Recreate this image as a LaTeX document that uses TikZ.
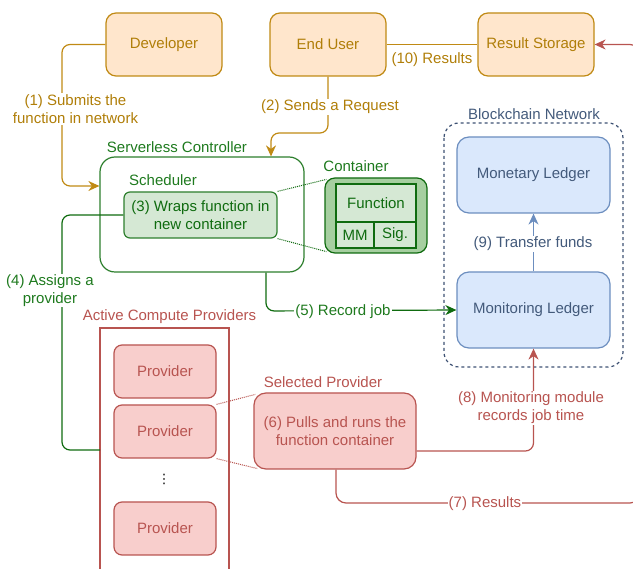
\documentclass[tikz,border=0pt]{standalone}
\usepackage{fontspec}
\setmainfont{Liberation Sans}
\newfontfamily\dejavu{DejaVu Sans}
\usetikzlibrary{arrows.meta,calc}
\definecolor{orfill}{HTML}{FFE6CC}
\definecolor{orline}{HTML}{C08A14}
\definecolor{ortext}{HTML}{B07E08}
\definecolor{grline}{HTML}{2D7F2D}
\definecolor{grtext}{HTML}{1E7A1E}
\definecolor{grdark}{HTML}{0F6B0F}
\definecolor{grfill}{HTML}{D5E8D4}
\definecolor{grmid}{HTML}{A6CFA0}
\definecolor{rdfill}{HTML}{F8CECC}
\definecolor{rdline}{HTML}{B85450}
\definecolor{blfill}{HTML}{DAE8FC}
\definecolor{blline}{HTML}{6C8EBF}
\definecolor{bltext}{HTML}{435A7B}
\definecolor{bldash}{HTML}{3D5173}
\newcommand{\fs}{\fontsize{15}{18}\selectfont}
\tikzset{
  x=1pt,y=-1pt,
  every node/.style={font=\fs, align=center, inner sep=1pt},
  orbox/.style={draw=orline, fill=orfill, text=ortext, line width=1.2pt, rounded corners=10pt, minimum width=116pt, minimum height=63pt},
  bluebox/.style={draw=blline, fill=blfill, text=bltext, line width=1.2pt, rounded corners=12pt, minimum width=153pt, minimum height=76pt},
  provbox/.style={draw=rdline, fill=rdfill, text=rdline, line width=1.2pt, rounded corners=8pt, minimum width=102pt, minimum height=53pt},
  grcell/.style={draw=grdark, fill=grfill, text=grdark, line width=1.2pt},
  orarrow/.style={draw=orline, line width=1.2pt, rounded corners=8pt},
  grarrow/.style={draw=grdark, line width=1.2pt, rounded corners=8pt},
  rdarrow/.style={draw=rdline, line width=1.2pt, rounded corners=8pt},
  tip/.style={-{Stealth[length=11pt,width=10pt,inset=3.5pt]}},
  lbl/.style={fill=white, inner sep=1pt},
}
\begin{document}
\begin{tikzpicture}
\useasboundingbox (0,0) rectangle (633,569);
\clip (0,0) rectangle (633,569);

% top row
\node[orbox] (dev) at (164,44.5) {Developer};
\node[orbox] (user) at (328,44.5) {End User};
\node[orbox] (store) at (536,44.5) {Result Storage};

% serverless controller
\node[draw=grline, fill=white, line width=1.2pt, rounded corners=15pt, minimum width=204pt, minimum height=115pt] (ctrl) at (202,214.5) {};
\node[text=grtext] (ctrllbl) at (177,147) {Serverless Controller};
\node[text=grtext] (sched) at (163,180) {Scheduler};
\node[draw=grline, fill=grfill, text=grdark, line width=1.2pt, rounded corners=6pt, minimum width=153pt, minimum height=46pt] (wrap) at (200.5,215) {(3) Wraps function in\\new container};

% container
\node[draw=grdark, fill=grmid, line width=1.2pt, rounded corners=10pt, minimum width=102pt, minimum height=75pt] (cont) at (376,215.5) {};
\node[text=grtext] (contlbl) at (356,166) {Container};
\node[grcell, minimum width=80pt, minimum height=38pt] (func) at (376,203) {Function};
\node[grcell, minimum width=38pt, minimum height=26pt, inner sep=0pt] (mm) at (355,235) {MM};
\node[grcell, minimum width=42pt, minimum height=26pt, inner sep=0pt] (sig) at (395,235) {Sig.};
\draw[grdark, densely dotted, line width=1pt] (wrap.north east) -- ($(cont.north west)+(2,2)$);
\draw[grdark, densely dotted, line width=1pt] (wrap.south east) -- ($(cont.south west)+(2,-2)$);

% blockchain network
\draw[bldash, dashed, line width=1.2pt, rounded corners=15pt] (444,123) rectangle (623,367);
\node[text=bltext] (bclbl) at (534,114) {Blockchain Network};
\node[bluebox] (mon) at (533.5,175) {Monetary Ledger};
\node[bluebox] (mtr) at (533.5,310) {Monitoring Ledger};

% active compute providers
\draw[rdline, line width=1.2pt] (100,600) -- (100,328) -- (229,328) -- (229,600);
\coordinate (acp) at (100,450);
\node[text=rdline] (acplbl) at (169.5,317) {Active Compute Providers};
\node[provbox] (p1) at (165,371.5) {Provider};
\node[provbox] (p2) at (165,431.5) {Provider};
\node[provbox] (p3) at (165,528.5) {Provider};
\node[font=\dejavu\fontsize{13}{15}\selectfont] (dots) at (164,479) {⋮};

% selected provider
\node[draw=rdline, fill=rdfill, text=rdline, line width=1.2pt, rounded corners=12pt, minimum width=162pt, minimum height=76pt] (sel) at (335,431) {(6) Pulls and runs the\\function container};
\node[text=rdline] (sellbl) at (323,382) {Selected Provider};
\draw[rdline, densely dotted, line width=1pt] (p2.north east) -- ($(sel.north west)+(2,2)$);
\draw[rdline, densely dotted, line width=1pt] (p2.south east) -- ($(sel.south west)+(4,-1)$);

% (1)
\draw[orarrow, tip] (dev.west) -- (62,44.5) -- (62,186) -- ([yshift=28.5pt]ctrl.west);
\node[lbl, text=ortext] (l1) at (75.5,109) {(1) Submits the\\function in network};
% (2)
\draw[orarrow, tip] (user.south) -- (328,133) -- (271,133) -- ([xshift=69pt]ctrl.north);
\node[lbl, text=ortext] (l2) at (330,107) {(2) Sends a Request};
% (10)
\draw[orline, line width=1.2pt] (user.east) -- (store.west);
\node[text=ortext] (l10) at (432,60) {(10) Results};

% (4)
\draw[grarrow] (wrap.west) -- (62,215) -- (62,450) -- (acp);
\node[lbl, text=grtext] (l4) at (50,290.5) {(4) Assigns a\\provider};
% (5)
\draw[grarrow, tip] ([xshift=64pt]ctrl.south) -- (266,311) -- (mtr.west);
\node[lbl, text=grtext] (l5) at (343,312) {(5) Record job};

% (8)
\draw[rdarrow, tip] ([yshift=-20pt]sel.east) -- (533.5,451) -- (mtr.south);
\node[lbl, text=rdline] (l8) at (531,408) {(8) Monitoring module\\records job time};
% (7)
\draw[rdarrow, tip, rounded corners=10pt] ([xshift=1pt]sel.south) -- (336,503) -- (640,503) -- (640,44.5) -- (store.east);
\node[lbl, text=rdline] (l7) at (485,504) {(7) Results};

% (9)
\draw[blline, line width=1.2pt, tip] (mtr.north) -- (mon.south);
\node[lbl, text=bltext] (l9) at (533,244) {(9) Transfer funds};
\end{tikzpicture}
\end{document}
